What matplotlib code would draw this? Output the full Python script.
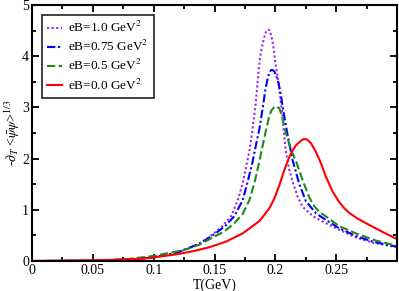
import numpy as np
import matplotlib
matplotlib.use("Agg")
import matplotlib.pyplot as plt
from matplotlib.ticker import MultipleLocator

plt.rcParams['font.family'] = ['Liberation Serif', 'DejaVu Serif']
plt.rcParams['mathtext.fontset'] = 'stix'

# eB = 1.0 GeV^2
t_10 = [0.0, 0.05, 0.08, 0.10, 0.1186, 0.1295, 0.1404, 0.1486, 0.1568, 0.1637, 0.1691,
        0.1732, 0.176, 0.1787, 0.18, 0.1809, 0.182, 0.1836, 0.1847, 0.1855, 0.1863,
        0.1874, 0.1883, 0.1896, 0.191, 0.1924, 0.1937, 0.1951, 0.1965, 0.1978, 0.1992,
        0.2, 0.2011, 0.2027, 0.2039, 0.2055, 0.2066, 0.2074, 0.2088, 0.2115, 0.2142,
        0.2183, 0.2224, 0.2306, 0.2388, 0.2525, 0.2661, 0.2798, 0.2975, 0.3]
v_10 = [0.0, 0.005, 0.03, 0.07, 0.16, 0.25, 0.38, 0.52, 0.69, 0.88, 1.19,
        1.52, 1.84, 2.15, 2.35, 2.50, 2.72, 3.02, 3.30, 3.52, 3.74,
        3.95, 4.10, 4.24, 4.38, 4.48, 4.52, 4.51, 4.42, 4.27, 4.04,
        3.87, 3.72, 3.47, 3.21, 2.92, 2.64, 2.42, 2.12, 1.78, 1.55,
        1.26, 1.06, 0.88, 0.77, 0.61, 0.46, 0.36, 0.28, 0.27]

# eB = 0.75 GeV^2
t_075 = [0.0, 0.05, 0.08, 0.10, 0.12, 0.1377, 0.1486, 0.1596, 0.1664, 0.1732, 0.1773,
         0.1814, 0.1842, 0.1869, 0.1885, 0.1902, 0.1918, 0.1937, 0.1951, 0.1965, 0.1978,
         0.1992, 0.2005, 0.2027, 0.2046, 0.206, 0.2079, 0.2101, 0.2142, 0.2197, 0.2251,
         0.2334, 0.2429, 0.2525, 0.2661, 0.2798, 0.2975, 0.3]
v_075 = [0.0, 0.005, 0.03, 0.07, 0.17, 0.34, 0.50, 0.70, 0.88, 1.19, 1.55,
         1.95, 2.28, 2.58, 2.82, 3.08, 3.34, 3.57, 3.68, 3.73, 3.73,
         3.70, 3.63, 3.47, 3.24, 3.01, 2.75, 2.46, 1.97, 1.50, 1.17,
         0.93, 0.78, 0.64, 0.49, 0.38, 0.29, 0.28]

# eB = 0.5 GeV^2
t_05 = [0.0, 0.05, 0.08, 0.10, 0.1158, 0.1268, 0.1377, 0.1486, 0.1582, 0.1664, 0.1732,
        0.1787, 0.1828, 0.1869, 0.1902, 0.1924, 0.1945, 0.1965, 0.1992, 0.2012, 0.2033,
        0.2055, 0.2074, 0.2093, 0.2115, 0.2142, 0.217, 0.2224, 0.2279, 0.232, 0.2361,
        0.2457, 0.2525, 0.2661, 0.2825, 0.2975, 0.3]
v_05 = [0.0, 0.005, 0.04, 0.10, 0.17, 0.23, 0.32, 0.46, 0.58, 0.74, 0.92,
        1.19, 1.52, 1.95, 2.32, 2.56, 2.78, 2.93, 3.01, 3.02, 2.98,
        2.82, 2.62, 2.45, 2.28, 2.10, 1.95, 1.58, 1.24, 1.07, 0.96,
        0.80, 0.68, 0.54, 0.40, 0.31, 0.30]

# eB = 0.0 GeV^2
t_00 = [0.0, 0.05, 0.07, 0.09, 0.10, 0.1186, 0.1322, 0.1459, 0.1596, 0.1732, 0.1869,
        0.191, 0.1951, 0.1992, 0.2033, 0.206, 0.2088, 0.2115, 0.2142, 0.217, 0.2211,
        0.2232, 0.2252, 0.2272, 0.2293, 0.2334, 0.2375, 0.2415, 0.247, 0.2519, 0.2563,
        0.2607, 0.2675, 0.2743, 0.288, 0.299, 0.3]
v_00 = [0.0, 0.015, 0.025, 0.045, 0.07, 0.13, 0.19, 0.27, 0.38, 0.54, 0.78,
        0.90, 1.03, 1.22, 1.48, 1.68, 1.87, 2.03, 2.16, 2.26, 2.35,
        2.38, 2.38, 2.35, 2.30, 2.13, 1.91, 1.65, 1.36, 1.17, 1.04,
        0.94, 0.83, 0.74, 0.57, 0.44, 0.43]

x_ticks = [0, 0.05, 0.1, 0.15, 0.2, 0.25]
x_labels = ['0', '0.05', '0.1', '0.15', '0.2', '0.25']
y_ticks = [0, 1, 2, 3, 4, 5]

fig = plt.figure(figsize=(3.99, 2.91), dpi=100)
ax = fig.add_axes([0.0802, 0.1031, 0.9148, 0.8797])

ax.plot(t_10, v_10, color='#a020f0', linestyle=(0, (1, 1.2)), linewidth=1.5,
        label=r'eB=1.0 GeV$^2$')
ax.plot(t_075, v_075, color='#0000ff', linestyle=(0, (4, 1.3, 1, 1.3)), linewidth=1.5,
        label=r'eB=0.75 GeV$^2$')
ax.plot(t_05, v_05, color='#1a8c1a', linestyle=(0, (4, 1.6)), linewidth=1.5,
        label=r'eB=0.5 GeV$^2$')
ax.plot(t_00, v_00, color='#ff0000', linestyle='-', linewidth=1.5,
        label=r'eB=0.0 GeV$^2$')

ax.set_xlim(0, 0.3)
ax.set_ylim(0, 5)
ax.set_xticks(x_ticks)
ax.set_xticklabels(x_labels)
ax.set_yticks(y_ticks)
ax.xaxis.set_minor_locator(MultipleLocator(0.025))
ax.yaxis.set_minor_locator(MultipleLocator(0.5))
ax.tick_params(which='both', direction='in', top=True, right=True, labelsize=10, width=1.3)
ax.tick_params(which='major', length=5, pad=2)
ax.tick_params(which='minor', length=3)
for s in ax.spines.values():
    s.set_linewidth(1.5)

ax.set_xlabel('T(GeV)', fontsize=10, labelpad=1)
ax.set_ylabel(r'-$\partial_T$ <$\bar{\psi}\psi$>$^{1/3}$', fontsize=10, labelpad=0)

leg = ax.legend(loc='upper left', bbox_to_anchor=(0.027, 0.961), fontsize=9.5,
                frameon=True, fancybox=False, handlelength=1.1, borderpad=0.4,
                labelspacing=0.3, handletextpad=0.5, borderaxespad=0)
leg.get_frame().set_edgecolor('black')
leg.get_frame().set_linewidth(1.3)

fig.savefig('out.png', dpi=100)
